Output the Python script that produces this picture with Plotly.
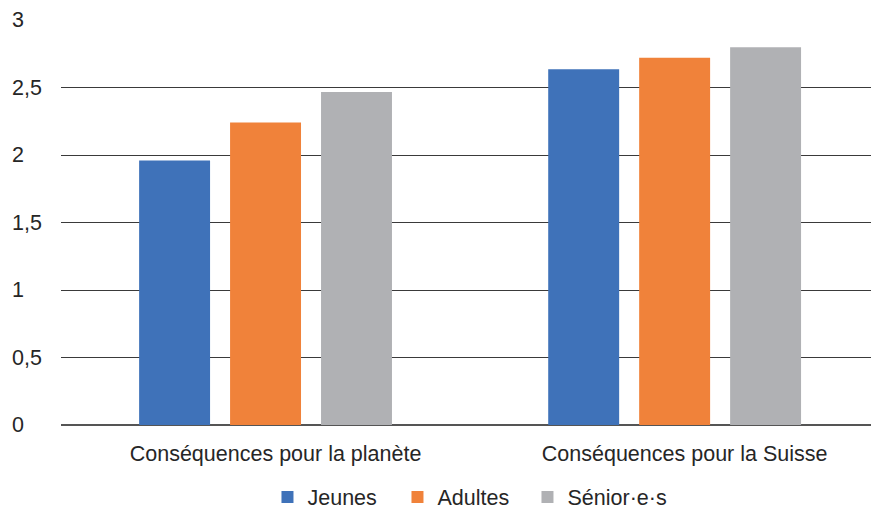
import plotly.graph_objects as go

categories = ["Conséquences pour la planète", "Conséquences pour la Suisse"]
series_names = ["Jeunes", "Adultes", "Sénior·e·s"]
jeunes = [1.96, 2.635]
adultes = [2.24, 2.72]
seniors = [2.467, 2.798]
y_tickvals = [0, 0.5, 1, 1.5, 2, 2.5, 3]
y_ticktext = ["0", "0,5", "1", "1,5", "2", "2,5", "3"]
colors = ["#3F72B9", "#F0823A", "#B0B1B4"]
legend_widths = [85, 85, 105]

FONT = "Liberation Sans, Arial, sans-serif"
TXT = "#262626"
FS = 21.5

fig = go.Figure()
for name, vals, col, lw in zip(series_names, [jeunes, adultes, seniors], colors, legend_widths):
    fig.add_trace(go.Bar(x=categories, y=vals, name=name, legendwidth=lw,
                         marker=dict(color=col, line=dict(width=0))))

for v, t in zip(y_tickvals, y_ticktext):
    fig.add_annotation(x=0, xref="paper", xshift=-51, xanchor="left", y=v, yref="y",
                       text=t, showarrow=False, font=dict(family=FONT, size=FS, color=TXT))

fig.update_layout(
    width=871, height=509,
    margin=dict(l=61, r=0, t=20, b=84, autoexpand=False),
    paper_bgcolor="white", plot_bgcolor="white",
    barmode="group", bargap=0.333, bargroupgap=0.22,
    font=dict(family=FONT, size=FS, color=TXT),
    xaxis=dict(type="category", range=[-0.5, 1.48], showgrid=False, showline=False,
               ticks="outside", ticklen=9, tickcolor="rgba(0,0,0,0)", automargin=False,
               ticklabelshift=10,
               tickfont=dict(family=FONT, size=FS, color=TXT)),
    yaxis=dict(range=[0, 3], tickvals=y_tickvals, showticklabels=False, automargin=False,
               showgrid=True, gridcolor="#3a3a3a", gridwidth=1,
               zeroline=True, zerolinecolor="#555555", zerolinewidth=1.5, showline=False),
    legend=dict(orientation="h", x=0.508, xanchor="center", y=-0.178, yanchor="middle",
                font=dict(family=FONT, size=FS, color=TXT), itemwidth=30),
    showlegend=True,
)

fig.write_html("out.html", config={"displayModeBar": False},
               post_script="document.body.style.margin='0';document.body.style.overflow='hidden';")
